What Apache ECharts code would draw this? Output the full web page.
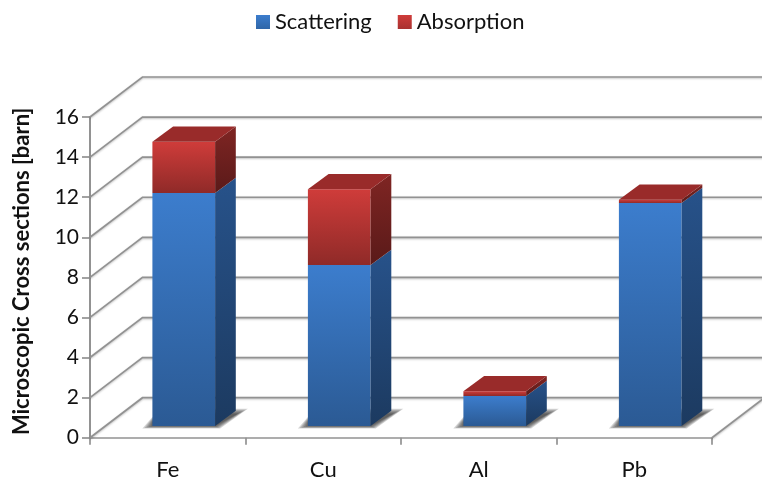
<!DOCTYPE html>
<html>
<head>
<meta charset="utf-8">
<style>html,body{margin:0;padding:0;background:#fff}#chart{width:762px;height:478px}</style>
<script src="https://cdn.jsdelivr.net/npm/echarts@6/dist/echarts.min.js"></script>
</head>
<body>
<div id="chart"></div>
<script>
var categories = ['Fe', 'Cu', 'Al', 'Pb'];
var scattering = [11.62, 8.03, 1.5, 11.12];
var absorption = [2.56, 3.78, 0.23, 0.17];
var yTicks = [0, 2, 4, 6, 8, 10, 12, 14, 16];

// fake 3d: depth of the walls and of the bars, in px
var wallDx = 52.5, wallDy = -40;
var barDx = 20.7, barDy = -15.3;
var barShiftX = 16, barShiftY = -11.7;
var barWidth = 62.7;
var gridColor = '#929292';
var font = 'Lato';

function vgrad(top, bottom) {
    return new echarts.graphic.LinearGradient(0, 0, 0, 1, [
        { offset: 0, color: top },
        { offset: 1, color: bottom }
    ]);
}

function wallLine(points) {
    return {
        type: 'polyline',
        shape: { points: points },
        style: {
            fill: null, stroke: gridColor, lineWidth: 1.7,
            shadowColor: 'rgba(0,0,0,0.25)', shadowBlur: 2, shadowOffsetY: 1
        }
    };
}

function renderWall(params, api) {
    var sys = params.coordSys;
    var p = api.coord([0, api.value(0)]);
    var left = sys.x;
    var children = [
        wallLine([[left, p[1]], [left + wallDx, p[1] + wallDy], [sys.x + sys.width + wallDx, p[1] + wallDy]])
    ];
    if (api.value(0) === 0) {
        children.push(wallLine([[sys.x + sys.width, p[1]], [sys.x + sys.width + wallDx, p[1] + wallDy]]));
    }
    return { type: 'group', children: children };
}

// soft shadow on the floor: stacked see-through polygons, the bar covers most of it
function renderShadow(params, api) {
    var p = api.coord([api.value(0), 0]);
    var x = p[0] - barWidth / 2 + barShiftX;
    var y = p[1] + barShiftY;
    var children = [];
    [10, 8, 6, 4, 2, 0].forEach(function (g) {
        children.push({
            type: 'polygon',
            shape: {
                points: [[x - g, y + g / 4], [x + barWidth + g / 2, y + g / 4],
                    [x + barWidth + barDx + 2 + g, y + barDy + 3 - g / 2], [x + barDx, y + barDy + 3 - g / 2],
                    [x, y - 4 - g / 2]]
            },
            style: { fill: 'rgba(40,40,40,0.2)' }
        });
    });
    return { type: 'group', children: children };
}

function makeBarRender(front, side, showTop) {
    return function (params, api) {
        var low = api.coord([api.value(0), api.value(1)]);
        var high = api.coord([api.value(0), api.value(2)]);
        var x = low[0] - barWidth / 2 + barShiftX;
        var y0 = low[1] + barShiftY;
        var y1 = high[1] + barShiftY;
        var children = [
            {
                type: 'rect',
                shape: { x: x, y: y1, width: barWidth, height: y0 - y1 },
                style: { fill: vgrad(front[0], front[1]) }
            },
            {
                type: 'polygon',
                shape: {
                    points: [[x + barWidth, y1], [x + barWidth + barDx, y1 + barDy],
                        [x + barWidth + barDx, y0 + barDy], [x + barWidth, y0]]
                },
                style: { fill: vgrad(side[0], side[1]) }
            }
        ];
        if (showTop) {
            children.push({
                type: 'polygon',
                shape: {
                    points: [[x, y1], [x + barDx, y1 + barDy], [x + barWidth + barDx, y1 + barDy], [x + barWidth, y1]]
                },
                style: { fill: '#992b2a' }
            });
        }
        return { type: 'group', children: children };
    };
}

var scatterData = [], absorbData = [], shadowData = [];
categories.forEach(function (c, i) {
    scatterData.push([i, 0, scattering[i]]);
    absorbData.push([i, scattering[i], scattering[i] + absorption[i]]);
    shadowData.push([i]);
});

var myChart = echarts.init(document.getElementById('chart'));

var option = {
    backgroundColor: '#fff',
    animation: false,
    textStyle: { fontFamily: font },
    legend: {
        left: 251,
        top: 6,
        itemWidth: 14,
        itemHeight: 14,
        itemGap: 26,
        textStyle: { fontFamily: font, fontSize: 22, color: '#111' },
        data: [
            { name: 'Scattering', icon: 'rect', itemStyle: { color: vgrad('#3c7dcd', '#2f66a8') } },
            { name: 'Absorption', icon: 'rect', itemStyle: { color: vgrad('#cf3c3a', '#a93230') } }
        ]
    },
    grid: { left: 90, top: 117, width: 622, height: 320.7, outerBoundsMode: 'none' },
    xAxis: {
        type: 'category',
        data: categories,
        axisLine: { lineStyle: { color: gridColor, width: 1.7 } },
        axisTick: { show: true, alignWithLabel: false, length: 7, lineStyle: { color: gridColor, width: 1.7 } },
        axisLabel: { fontFamily: font, fontSize: 22, color: '#111', margin: 21, interval: 0 }
    },
    yAxis: {
        type: 'value',
        min: 0,
        max: 16,
        interval: 2,
        name: 'Microscopic Cross sections [barn]',
        nameLocation: 'middle',
        nameGap: 57,
        nameRotate: 90,
        nameTextStyle: { fontFamily: font, fontSize: 22, fontWeight: 'bold', color: '#111', padding: [0, 0, 0, 12] },
        axisLine: { show: true, lineStyle: { color: gridColor, width: 2 } },
        axisTick: { show: true, length: 8, lineStyle: { color: gridColor, width: 1.7 } },
        axisLabel: { fontFamily: font, fontSize: 21, color: '#111', margin: 11 },
        splitLine: { show: false }
    },
    series: [
        {
            type: 'custom', name: 'walls', silent: true, z: 1,
            renderItem: renderWall,
            encode: { y: 0 },
            data: yTicks.map(function (v) { return [v]; })
        },
        {
            type: 'custom', name: 'shadow', silent: true, z: 2,
            renderItem: renderShadow,
            encode: { x: 0 },
            data: shadowData
        },
        {
            type: 'custom', name: 'Scattering', z: 3,
            renderItem: makeBarRender(['#3c7dcd', '#2b5a94'], ['#27528a', '#1c3a60'], false),
            encode: { x: 0, y: [1, 2] },
            itemStyle: { color: '#3c7dcd' },
            data: scatterData
        },
        {
            type: 'custom', name: 'Absorption', z: 4,
            renderItem: makeBarRender(['#cf3c3a', '#8f2a28'], ['#7f2523', '#5a1a19'], true),
            encode: { x: 0, y: [1, 2] },
            itemStyle: { color: '#cf3c3a' },
            data: absorbData
        }
    ]
};

myChart.setOption(option, true);
</script>
</body>
</html>
